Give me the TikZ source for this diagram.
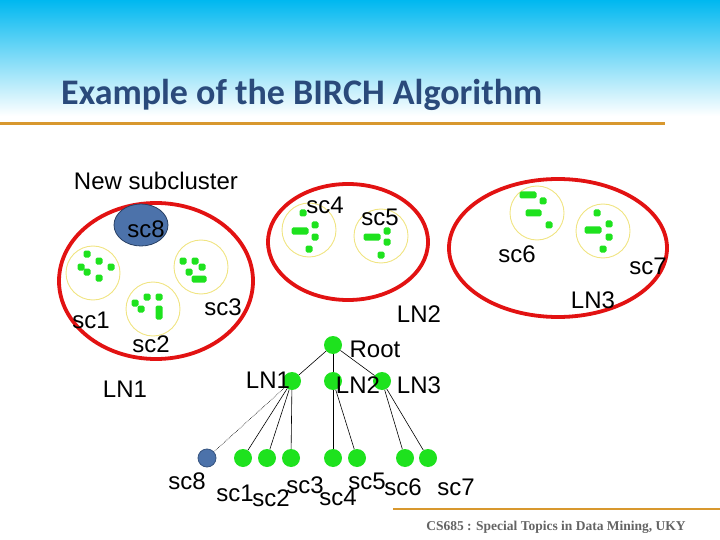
\documentclass[tikz,border=0pt]{standalone}
\usepackage{fontspec}
\usetikzlibrary{shapes.geometric}
\newfontfamily\arialf{Liberation Sans}
\newfontfamily\calibf{Carlito}
\newfontfamily\timesf{Liberation Serif}
\definecolor{topcyan}{RGB}{0,184,240}
\definecolor{titleblue}{RGB}{42,74,123}
\definecolor{barorange}{RGB}{216,152,46}
\definecolor{clred}{RGB}{226,18,18}
\definecolor{scyellow}{RGB}{240,228,130}
\definecolor{dotgreen}{RGB}{30,226,30}
\definecolor{newblue}{RGB}{76,114,170}
\definecolor{newblueedge}{RGB}{40,64,100}
\definecolor{footgray}{RGB}{100,100,100}
\newcommand\gdotA[2]{\fill[dotgreen, rounded corners=1.6] ({#1-3.5},{#2-3.5}) rectangle ++(7,7);}
\newcommand\gbarH[3]{\fill[dotgreen, rounded corners=1.6] ({#1-3.5},{#3-3.5}) rectangle ({#2+3.5},{#3+3.5});}
\newcommand\gbarV[3]{\fill[dotgreen, rounded corners=1.6] ({#1-3.5},{#2-3.5}) rectangle ({#1+3.5},{#3+3.5});}
\begin{document}
\begin{tikzpicture}[x=1pt,y=-1pt,
  redell/.style={ellipse, draw=clred, line width=3.8, inner sep=0},
  subcl/.style={circle, draw=scyellow, line width=0.9, inner sep=0, minimum size=54},
  lbl/.style={font=\arialf\fontsize{24}{27}\selectfont, inner sep=0, text=black},
  tn/.style={circle, fill=dotgreen, inner sep=0, minimum size=18},
  tnnew/.style={circle, fill=newblue, draw=newblueedge!60!newblue, line width=0.8, inner sep=0, minimum size=18},
  edge/.style={draw=black, line width=0.6},
  dotedge/.style={draw=black, line width=0.6, densely dotted},
  orangebar/.style={draw=barorange, line width=3}
]
\useasboundingbox (0,0) rectangle (720,540);
\shade[top color=topcyan, bottom color=white] (0,0) rectangle (720,116);
\node[font=\calibf\bfseries\fontsize{36}{40}\selectfont, text=titleblue, inner sep=0, anchor=base west] (title) at (61,105) {Example of the BIRCH Algorithm};
\draw[orangebar] (0,124) -- (665,124);

% cluster ellipses
\node[redell, minimum width=194, minimum height=156] (e1) at (156,281) {};
\node[redell, minimum width=160, minimum height=116] (e2) at (348,242) {};
\node[redell, minimum width=218, minimum height=138] (e3) at (558,248) {};

% subclusters
\node[subcl] (c1) at (93,273) {};
\node[subcl] (c2) at (153,309) {};
\node[subcl] (c3) at (201,267) {};
\node[subcl] (c4) at (309,230) {};
\node[subcl] (c5) at (381,236) {};
\node[subcl] (c6) at (537,213) {};
\node[subcl] (c7) at (603,231) {};
\node[ellipse, fill=newblue, draw=newblueedge, line width=0.8, minimum width=54, minimum height=42, inner sep=0] (c8) at (141,225) {};
\node[lbl] (c8l) at (146,229) {sc8};

% dots sc1
\gdotA{87}{254}\gdotA{99}{261}\gdotA{111}{267}\gdotA{81}{267}\gdotA{87}{272}\gdotA{99}{278}
% dots sc3
\gdotA{183}{261}\gdotA{195}{261}\gdotA{202}{267}\gdotA{189}{272}\gbarH{195}{203}{279}
% dots sc2
\gdotA{147}{297}\gdotA{159}{297}\gdotA{135}{303}\gdotA{141}{309}\gbarV{159}{309}{316}
% dots sc4
\gdotA{303}{213}\gdotA{315}{225}\gbarH{295}{305}{231}\gdotA{315}{237}\gdotA{309}{249}
% dots sc5
\gdotA{387}{231}\gbarH{367}{377}{237}\gdotA{387}{242}\gdotA{381}{255}
% dots sc6
\gbarH{523}{533}{195}\gdotA{543}{201}\gbarH{529}{538}{213}\gdotA{549}{225}
% dots sc7
\gdotA{597}{213}\gdotA{609}{224}\gbarH{588}{598}{230}\gdotA{609}{237}\gdotA{603}{249}

% cluster labels
\node[lbl] (nsub) at (156,181) {New subcluster};
\node[lbl] (l1) at (91,320) {sc1};
\node[lbl] (l2) at (151,344) {sc2};
\node[lbl] (l3) at (223,307) {sc3};
\node[lbl] (l4) at (325,205) {sc4};
\node[lbl] (l5) at (380,217) {sc5};
\node[lbl] (l6) at (517,254) {sc6};
\node[lbl] (l7) at (648,266) {sc7};
\node[lbl] (ln1a) at (125,389) {LN1};
\node[lbl] (ln2a) at (419,314) {LN2};
\node[lbl] (ln3a) at (593,300) {LN3};

% tree
\node[tn] (root) at (333,345) {};
\node[tn] (n1) at (292,381) {};
\node[tn] (n2) at (333,381) {};
\node[tn] (n3) at (382,381) {};
\node[tnnew] (s8) at (207,458) {};
\node[tn] (s1) at (243,458) {};
\node[tn] (s2) at (267,458) {};
\node[tn] (s3) at (291,458) {};
\node[tn] (s4) at (333,458) {};
\node[tn] (s5) at (357,458) {};
\node[tn] (s6) at (405,458) {};
\node[tn] (s7) at (428,458) {};

\draw[edge] (root) -- (n1);
\draw[edge] (root) -- (n2);
\draw[edge] (root) -- (n3);
\draw[dotedge] (n1) -- (s8);
\draw[edge] (n1) -- (s1);
\draw[edge] (n1) -- (s2);
\draw[edge] (n1) -- (s3);
\draw[edge] (n2) -- (s4);
\draw[edge] (n2) -- (s5);
\draw[edge] (n3) -- (s6);
\draw[edge] (n3) -- (s7);

\node[lbl] (troot) at (375,349) {Root};
\node[lbl] (tln1) at (268,380) {LN1};
\node[lbl] (tln2) at (358,385) {LN2};
\node[lbl] (tln3) at (419,385) {LN3};
\node[lbl] (t8) at (187,481) {sc8};
\node[lbl] (t1) at (235,493) {sc1};
\node[lbl] (t2) at (271,498) {sc2};
\node[lbl] (t3) at (305,485) {sc3};
\node[lbl] (t4) at (338,497) {sc4};
\node[lbl] (t5) at (367,481) {sc5};
\node[lbl] (t6) at (403,487) {sc6};
\node[lbl] (t7) at (456,487) {sc7};

% footer
\draw[draw=barorange, line width=2.5] (393,509) -- (720,509);
\node[font=\timesf\bfseries\fontsize{13.5}{16}\selectfont, text=footgray, inner sep=0] (foot) at (556,527) {CS685 : Special Topics in Data Mining, UKY};
\end{tikzpicture}
\end{document}
